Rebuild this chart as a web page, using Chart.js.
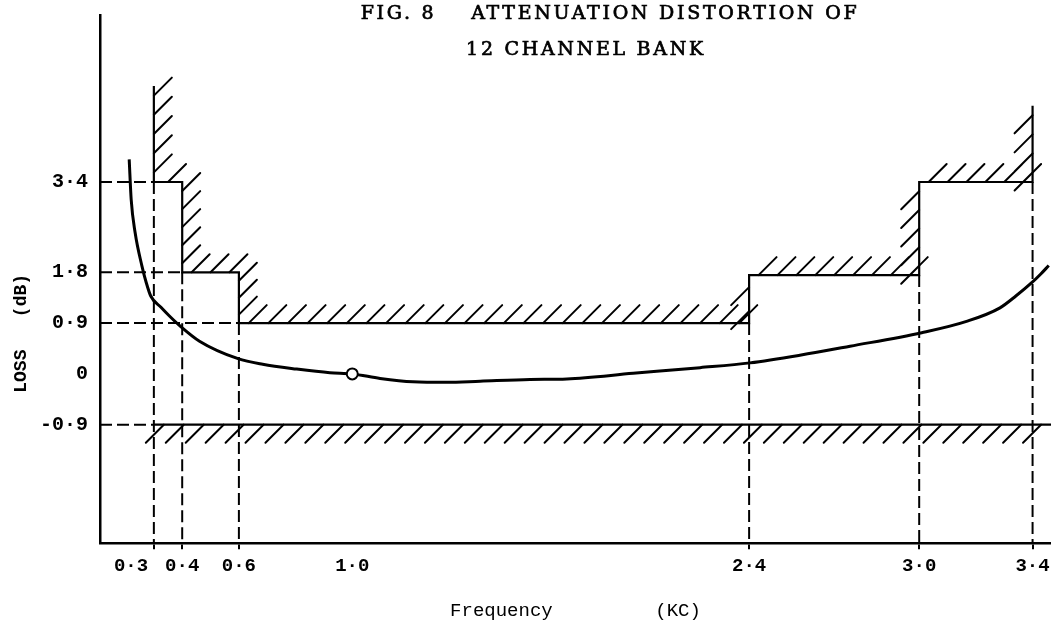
<!DOCTYPE html>
<html>
<head>
<meta charset="utf-8">
<script src="https://cdn.jsdelivr.net/npm/chart.js@4/dist/chart.umd.min.js"></script>
<style>
  html, body { margin: 0; padding: 0; background: #fff; }
  #wrap { width: 1051px; height: 630px; }
</style>
</head>
<body>
<div id="wrap"><canvas id="chart" width="1051" height="630"></canvas></div>
<script>
// Band edges (kc/s) where the permitted loss changes
const bandEdges = [0.3, 0.4, 0.6, 2.4, 3.0, 3.4];
// Maximum permitted loss (dB) between consecutive band edges
const bandMaxLoss = [3.4, 1.8, 0.9, 1.75, 3.4];
// Heights (dB) reached by the outer walls of the mask
const leftWallTop = 5.1;
const rightWallTop = 4.75;
// Minimum permitted loss (dB)
const minLoss = -0.9;

// Measured attenuation distortion of the channel bank
const curveFreq = [0.213, 0.220, 0.234, 0.258, 0.273, 0.289, 0.325, 0.354, 0.390, 0.461,
                   0.597, 0.684, 0.804, 0.921, 1.000, 1.098, 1.214, 1.333, 1.451, 1.627,
                   1.757, 1.991, 2.227, 2.403, 2.579, 2.756, 3.009, 3.167, 3.285, 3.342,
                   3.398, 3.429, 3.457];
const curveLoss = [3.80, 3.09, 2.50, 1.91, 1.62, 1.38, 1.18, 1.03, 0.86, 0.58,
                   0.27, 0.17, 0.085, 0.02, 0.00, -0.08, -0.14, -0.15, -0.13, -0.10,
                   -0.09, 0.01, 0.11, 0.195, 0.33, 0.49, 0.73, 0.93, 1.17, 1.384,
                   1.62, 1.77, 1.92];

// Reference frequency (loss taken as 0 dB)
const refFreq = [1.0];
const refLoss = [0];

// Axis ticks
const xTickValues = [0.3, 0.4, 0.6, 1.0, 2.4, 3.0, 3.4];
const xTickLabels = ['0·3', '0·4', '0·6', '1·0', '2·4', '3·0', '3·4'];
const yTickValues = [-0.9, 0, 0.9, 1.8, 3.4];
const yTickLabels = ['-0·9', '0', '0·9', '1·8', '3·4'];

// Axis ranges
const xMin = 0.11, xMax = 3.465;
const yMin = -3.0, yMax = 6.35;

// ---- derived geometry -------------------------------------------------

// Upper mask: stepped outline from the left wall to the right wall
const upperMask = [{ x: bandEdges[0], y: leftWallTop }];
bandMaxLoss.forEach((lvl, i) => {
  upperMask.push({ x: bandEdges[i], y: lvl });
  upperMask.push({ x: bandEdges[i + 1], y: lvl });
});
upperMask.push({ x: bandEdges[bandEdges.length - 1], y: rightWallTop });

// Lower mask: flat floor from the first band edge to the right
const lowerMask = [{ x: bandEdges[0], y: minLoss }, { x: xMax, y: minLoss }];

// Dashed construction lines
const dashed = [];
// horizontals from the loss axis to the descending steps on the left
for (let i = 0; i < bandMaxLoss.length; i++) {
  if (i > 0 && bandMaxLoss[i] > bandMaxLoss[i - 1]) break;
  dashed.push({ x: xMin, y: bandMaxLoss[i] }, { x: bandEdges[i], y: bandMaxLoss[i] }, { x: bandEdges[i], y: null });
}
dashed.push({ x: xMin, y: minLoss }, { x: bandEdges[0], y: minLoss }, { x: bandEdges[0], y: null });
// verticals from each band edge down to the frequency axis
bandEdges.forEach((f, j) => {
  const left = j > 0 ? bandMaxLoss[j - 1] : Infinity;
  const right = j < bandMaxLoss.length ? bandMaxLoss[j] : Infinity;
  dashed.push({ x: f, y: Math.min(left, right) }, { x: f, y: yMin }, { x: f, y: null });
});

const curve = curveFreq.map((f, i) => ({ x: f, y: curveLoss[i] }));
const refPoint = refFreq.map((f, i) => ({ x: f, y: refLoss[i] }));

// ---- plugins ------------------------------------------------------------

// Short slanted strokes on the forbidden side of the limit lines
const hatchPlugin = {
  id: 'hatch',
  afterDatasetsDraw(chart, args, opts) {
    const ctx = chart.ctx;
    chart.data.datasets.forEach((ds, di) => {
      if (!ds.hatch) return;
      const pts = chart.getDatasetMeta(di).data;
      ctx.save();
      ctx.strokeStyle = opts.color;
      ctx.lineWidth = opts.width;
      ctx.lineCap = 'round';
      ctx.beginPath();
      for (let i = 0; i < pts.length - 1; i++) {
        const a = pts[i], b = pts[i + 1];
        const dx = b.x - a.x, dy = b.y - a.y;
        const len = Math.hypot(dx, dy);
        if (len < 1) continue;
        // +1: strokes run up and to the right of the edge, -1: down and to the left
        let dir;
        if (ds.hatch === 'below') dir = -1;
        else if (Math.abs(dy) < 0.5) dir = 1;
        else dir = dy > 0 ? 1 : -1;
        const n = Math.max(1, Math.round(len / opts.spacing));
        for (let k = 0; k < n; k++) {
          const t = (k + 0.5) / n;
          const x = a.x + dx * t, y = a.y + dy * t;
          ctx.moveTo(x, y);
          ctx.lineTo(x + dir * opts.size, y - dir * opts.size);
        }
      }
      ctx.stroke();
      ctx.restore();
    });
  }
};

// Two-line heading above the plot
const headingPlugin = {
  id: 'heading',
  afterDraw(chart, args, opts) {
    const ctx = chart.ctx;
    ctx.save();
    ctx.fillStyle = '#000';
    ctx.strokeStyle = '#000';
    ctx.lineWidth = opts.weight;
    ctx.font = opts.font;
    ctx.textAlign = 'center';
    ctx.textBaseline = 'alphabetic';
    ctx.letterSpacing = opts.letterSpacing;
    opts.lines.forEach(l => {
      ctx.fillText(l.text, l.x, l.y);
      ctx.strokeText(l.text, l.x, l.y);
    });
    ctx.restore();
  }
};

const mono = 'Liberation Mono';

new Chart(document.getElementById('chart'), {
  type: 'line',
  data: {
    datasets: [
      {
        label: 'reference',
        data: refPoint,
        showLine: false,
        pointRadius: 5.5,
        pointBackgroundColor: '#fff',
        pointBorderColor: '#000',
        pointBorderWidth: 2,
        order: 0
      },
      {
        label: 'loss',
        data: curve,
        borderColor: '#000',
        borderWidth: 3,
        pointRadius: 0,
        cubicInterpolationMode: 'monotone',
        order: 1
      },
      {
        label: 'upper limit',
        data: upperMask,
        hatch: 'outside',
        borderColor: '#000',
        borderWidth: 2.2,
        pointRadius: 0,
        tension: 0,
        order: 2
      },
      {
        label: 'lower limit',
        data: lowerMask,
        hatch: 'below',
        borderColor: '#000',
        borderWidth: 2.2,
        pointRadius: 0,
        tension: 0,
        order: 3
      },
      {
        label: 'construction',
        data: dashed,
        borderColor: '#000',
        borderWidth: 2,
        borderDash: [12, 5],
        pointRadius: 0,
        spanGaps: false,
        tension: 0,
        order: 4
      }
    ]
  },
  options: {
    responsive: false,
    animation: false,
    devicePixelRatio: 1,
    layout: { autoPadding: false, padding: { top: 15.5, right: 0, left: 0, bottom: 0 } },
    plugins: {
      legend: { display: false },
      tooltip: { enabled: false },
      hatch: { color: '#000', width: 2, size: 18, spacing: 20 },
      heading: {
        font: '19px "DejaVu Serif"',
        weight: 0.7,
        letterSpacing: '2.7px',
        lines: [
          { text: 'FIG. 8    ATTENUATION DISTORTION OF', x: 610, y: 19 },
          { text: '12 CHANNEL BANK', x: 586, y: 55 }
        ]
      }
    },
    scales: {
      x: {
        type: 'linear',
        min: xMin,
        max: xMax,
        afterBuildTicks: s => { s.ticks = xTickValues.map(v => ({ value: v })); },
        afterFit: s => { s.height = 86.8; s.paddingLeft = 0; s.paddingRight = 0; },
        ticks: {
          color: '#000',
          font: { family: mono, size: 19, weight: 'bold' },
          padding: 6,
          maxRotation: 0,
          autoSkip: false,
          callback: (v, i) => i === 0 ? xTickLabels[i] + '    ' : xTickLabels[i]
        },
        grid: {
          drawOnChartArea: false,
          drawTicks: true,
          tickLength: 6,
          lineWidth: 2,
          color: c => (c.tick && bandEdges.indexOf(c.tick.value) >= 0) ? '#000' : 'rgba(0,0,0,0)'
        },
        border: { display: true, color: '#000', width: 2.5 },
        title: {
          display: true,
          text: 'Frequency         (KC)',
          color: '#000',
          font: { family: mono, size: 19 },
          padding: { top: 0, bottom: 8 }
        }
      },
      y: {
        type: 'linear',
        min: yMin,
        max: yMax,
        afterBuildTicks: s => { s.ticks = yTickValues.map(v => ({ value: v })); },
        afterFit: s => { s.width = 100; s.paddingTop = 0; s.paddingBottom = 0; },
        ticks: {
          color: '#000',
          font: { family: mono, size: 20, weight: 'bold' },
          padding: 12,
          callback: (v, i) => yTickLabels[i]
        },
        grid: { display: false, drawTicks: false, tickLength: 0 },
        border: { display: true, color: '#000', width: 2.5 },
        title: {
          display: true,
          text: 'LOSS   (dB)          ',
          color: '#000',
          font: { family: mono, size: 18, weight: 'bold' },
          padding: { top: 11, bottom: 0 }
        }
      }
    }
  },
  plugins: [hatchPlugin, headingPlugin]
});
</script>
</body>
</html>
